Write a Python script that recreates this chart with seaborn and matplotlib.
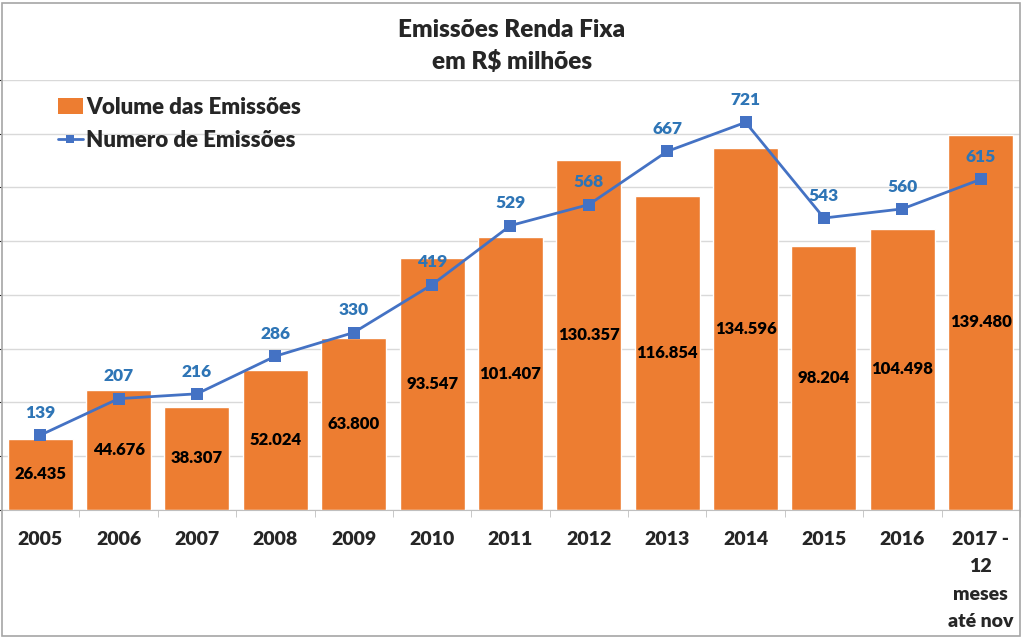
import numpy as np
import pandas as pd
import matplotlib
matplotlib.use("Agg")
import matplotlib.pyplot as plt
import seaborn as sns
from matplotlib.patches import Patch, Rectangle
from matplotlib.lines import Line2D

# data
anos = ["2005", "2006", "2007", "2008", "2009", "2010", "2011", "2012",
        "2013", "2014", "2015", "2016", "2017 -\n12\nmeses\naté nov"]
volume = [26435, 44676, 38307, 52024, 63800, 93547, 101407, 130357,
          116854, 134596, 98204, 104498, 139480]
numero = [139, 207, 216, 286, 330, 419, 529, 568, 667, 721, 543, 560, 615]

laranja = "#ED7D31"
azul = "#4472C4"
azul_txt = "#2E75B6"
peso = "heavy"

sns.set_style("white")
plt.rcParams['font.family'] = ['Lato', 'DejaVu Sans']

df = pd.DataFrame({"Ano": anos, "Volume": volume, "Numero": numero})

fig = plt.figure(figsize=(10.24, 6.39), dpi=100)
ax = fig.add_axes([0.001, 0.202, 0.995, 0.673])

sns.barplot(data=df, x="Ano", y="Volume", color=laranja, saturation=1,
            width=0.83, ax=ax, zorder=2)
ax.set_ylim(0, 160000)
ax.set_yticks(np.arange(0, 160001, 20000))
ax.yaxis.grid(True, color="#D9D9D9", lw=1, zorder=0)
ax.set_axisbelow(True)
ax.tick_params(axis="y", left=False, labelleft=False)
ax.set_xticks(np.arange(len(anos)))
ax.set_xticklabels(anos, fontsize=14, fontweight=peso, linespacing=1.75)
ax.tick_params(axis="x", length=0, pad=15)
ax.set_xticks(np.arange(len(anos)) + 0.5, minor=True)
ax.tick_params(axis="x", which="minor", length=5, color="#BFBFBF", bottom=True)
ax.set_xlabel("")
ax.set_ylabel("")
for s in ["top", "left", "right"]:
    ax.spines[s].set_visible(False)
ax.spines["bottom"].set_color("#BFBFBF")

for i, v in enumerate(volume):
    ax.text(i, v / 2, f"{v:,}".replace(",", "."), ha="center", va="center",
            fontsize=12, fontweight=peso, color="black", zorder=3)

ax2 = ax.twinx()
sns.lineplot(x=np.arange(len(anos)), y=numero, color=azul, lw=2, marker="s",
             markersize=8, markeredgewidth=0, ax=ax2, zorder=4)
ax2.set_ylim(0, 800)
ax2.set_xlim(-0.5, len(anos) - 0.5)
ax2.axis("off")
for i, n in enumerate(numero):
    ax2.annotate(str(n), (i, n), xytext=(0, 16), textcoords="offset points",
                 ha="center", va="center", fontsize=12.5, fontweight=peso,
                 color=azul_txt)

handles = [Patch(facecolor=laranja, edgecolor="none"),
           Line2D([], [], color=azul, lw=2, marker="s", markersize=6,
                  markeredgewidth=0)]
fig.legend(handles, ["Volume das Emissões", "Numero de Emissões"],
           loc="upper left", bbox_to_anchor=(0.046, 0.866), frameon=False,
           prop={"weight": peso, "size": 16}, handlelength=1.1,
           handletextpad=0.15, labelspacing=0.55, borderpad=0)

fig.text(0.5, 0.953, "Emissões Renda Fixa", ha="center", va="center",
         fontsize=17.5, fontweight=peso)
fig.text(0.5, 0.903, "em R$ milhões", ha="center", va="center",
         fontsize=17.5, fontweight=peso)

fig.patches.append(Rectangle((0.002, 0.004), 0.994, 0.992,
                             transform=fig.transFigure, fill=False,
                             edgecolor="#A6A6A6", lw=1.2))

fig.savefig("out.png", dpi=100)
